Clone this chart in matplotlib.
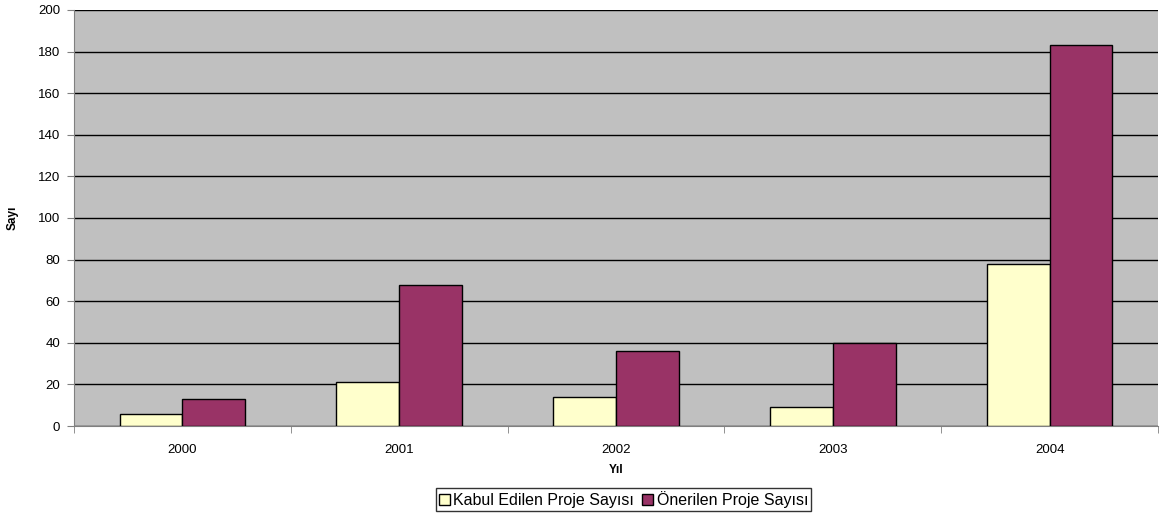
import numpy as np
import matplotlib.pyplot as plt

plt.rcParams['font.family'] = ['Liberation Sans', 'DejaVu Sans']

# Data
years = ['2000', '2001', '2002', '2003', '2004']
kabul = [6, 21, 14, 9, 78]      # Kabul Edilen Proje Sayısı
onerilen = [13, 68, 36, 40, 183]  # Önerilen Proje Sayısı

fig = plt.figure(figsize=(11.71, 5.17), dpi=100)
ax = fig.add_axes([0.0632, 0.176, 0.9257, 0.8047])
ax.set_facecolor('#C0C0C0')

x = np.arange(len(years))
w = 0.29
ax.bar(x - w/2, kabul, w, color='#FFFFCC', edgecolor='black', linewidth=1, label='Kabul Edilen Proje Sayısı', zorder=3)
ax.bar(x + w/2, onerilen, w, color='#993366', edgecolor='black', linewidth=1, label='Önerilen Proje Sayısı', zorder=3)

ax.set_xlim(-0.5, len(years) - 0.5)
ax.set_ylim(0, 200)
ax.set_yticks(range(0, 201, 20))
ax.yaxis.grid(True, color='black', linewidth=1, zorder=1)
ax.set_axisbelow(True)

ax.set_xticks(x)
ax.set_xticklabels(years)
ax.set_xticks(np.arange(-0.5, len(years)), minor=True)
ax.tick_params(axis='x', which='major', length=0, labelsize=9.5, pad=13)
ax.tick_params(axis='x', which='minor', length=5, color='#808080')
ax.tick_params(axis='y', length=5, color='#808080', labelsize=9.5, pad=5)

for s in ['top', 'right']:
    ax.spines[s].set_visible(False)
ax.spines['left'].set_color('#808080')
ax.spines['bottom'].set_color('#808080')

ax.set_xlabel('Yıl', fontsize=8.5, fontweight='bold', labelpad=6)
ax.set_ylabel('Sayı', fontsize=8.5, fontweight='bold', labelpad=14)

leg = ax.legend(loc='upper center', bbox_to_anchor=(0.507, -0.149), ncol=2, frameon=True,
                fancybox=False, edgecolor='black', fontsize=11.5, handlelength=0.7,
                handleheight=0.7, handletextpad=0.2, columnspacing=0.5, borderpad=0.2,
                borderaxespad=0)
leg.get_frame().set_linewidth(1)

fig.savefig('out.png', dpi=100)
